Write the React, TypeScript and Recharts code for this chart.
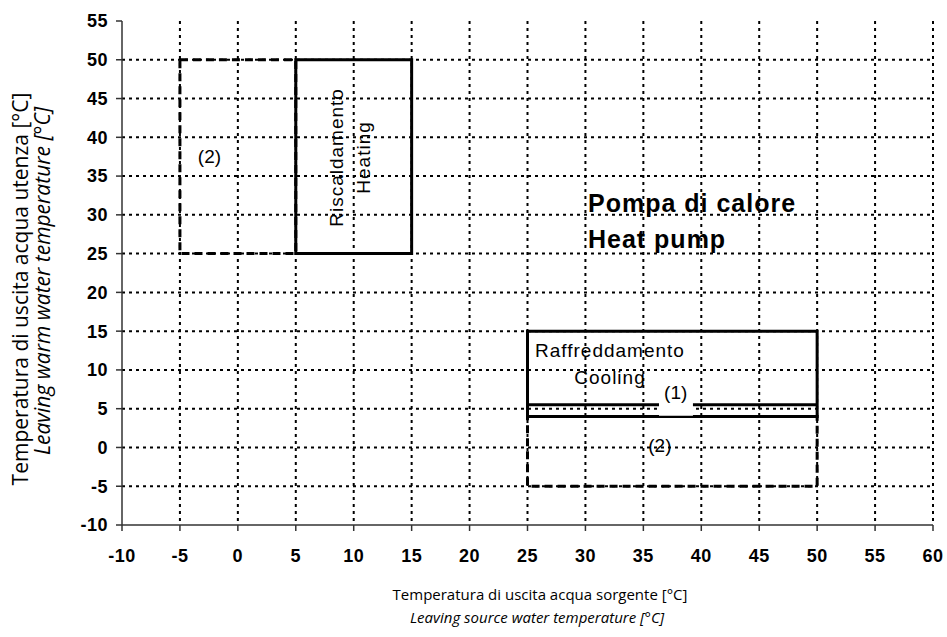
import React from 'react'
import {
  ComposedChart,
  XAxis,
  YAxis,
  CartesianGrid,
  ReferenceArea,
  ReferenceLine,
  ReferenceDot,
} from 'recharts'

// axis ticks
const xTicks = [-10, -5, 0, 5, 10, 15, 20, 25, 30, 35, 40, 45, 50, 55, 60]
const yTicks = [-10, -5, 0, 5, 10, 15, 20, 25, 30, 35, 40, 45, 50, 55]
const gridX = [-5, 0, 5, 10, 15, 20, 25, 30, 35, 40, 45, 50, 55, 60]
const gridY = [-5, 0, 5, 10, 15, 20, 25, 30, 35, 40, 45, 50]

// operating envelopes [x1, x2, y1, y2]
const heatingBox = [5, 15, 25, 50]
const heatingExtBox = [-5, 5, 25, 50] // (2)
const coolingBox = [25, 50, 4, 15]
const coolingExtBox = [25, 50, -5, 4] // (2)
// limit (1) inside the cooling box, broken where its label sits
const coolingLimitY = 5.5
const coolingLimitGap = [36.35, 39.28]

const FONT = '"Liberation Sans", Arial, sans-serif'
const TITLE_FONT = '"Open Sans", sans-serif'

const textAt = (lines: { text: string; dx?: number; dy?: number; anchor?: string; size?: number; bold?: boolean; rotate?: boolean; spacing?: number }[]) =>
  (props: any) => {
    const { cx, cy } = props
    return (
      <g>
        {lines.map((l, i) => {
          const x = cx + (l.dx || 0)
          const y = cy + (l.dy || 0)
          return (
            <text
              key={i}
              x={x}
              y={y}
              textAnchor={l.anchor || 'start'}
              fontFamily={FONT}
              fontSize={l.size || 19}
              fontWeight={l.bold ? 'bold' : 'normal'}
              letterSpacing={l.spacing || 0}
              fill="#000"
              transform={l.rotate ? `rotate(-90 ${x} ${y})` : undefined}
            >
              {l.text}
            </text>
          )
        })}
      </g>
    )
  }

const boxStyle = { fill: 'none', stroke: '#000', strokeWidth: 3, fillOpacity: 1, strokeOpacity: 1 }
const dashStyle = { ...boxStyle, strokeDasharray: '8 5' }
const tickStyle = { fontSize: 18, fontWeight: 'bold', fill: '#000', fontFamily: FONT, letterSpacing: 0.5 }

export default function App() {
  return (
    <div style={{ position: 'absolute', left: 0, top: 0, background: '#fff' }}>
      <ComposedChart width={947} height={637} data={[]} margin={{ top: 21, right: 14, left: 0, bottom: 0 }}>
        <CartesianGrid
          stroke="#000"
          strokeWidth={2}
          strokeDasharray="3 4"
          horizontalValues={gridY}
          verticalValues={gridX}
        />
        <XAxis
          type="number"
          dataKey="x"
          domain={[-10, 60]}
          ticks={xTicks}
          interval={0}
          height={112}
          allowDataOverflow
          axisLine={{ stroke: '#333', strokeWidth: 1.5 }}
          tickLine={{ stroke: '#333', strokeWidth: 1.5 }}
          tickSize={6}
          tickMargin={18}
          tick={tickStyle}
          label={{
            content: () => (
              <g fontFamily={TITLE_FONT} fontSize={15} fill="#000" textAnchor="middle">
                <text x={540} y={600}>Temperatura di uscita acqua sorgente [°C]</text>
                <text x={537} y={623} fontStyle="italic">Leaving source water temperature [°C]</text>
              </g>
            ),
          }}
        />
        <YAxis
          type="number"
          domain={[-10, 55]}
          ticks={yTicks}
          interval={0}
          width={122}
          allowDataOverflow
          axisLine={{ stroke: '#333', strokeWidth: 1.5 }}
          tickLine={{ stroke: '#333', strokeWidth: 1.5 }}
          tickSize={6}
          tickMargin={8}
          tick={tickStyle}
          label={{
            content: () => (
              <g fontFamily={TITLE_FONT} fontSize={21} fill="#000" textAnchor="middle">
                <text x={28} y={289} transform="rotate(-90 28 289)">
                  Temperatura di uscita acqua utenza [°C]
                </text>
                <text x={50} y={281} fontStyle="italic" transform="rotate(-90 50 281)">
                  Leaving warm water temperature [°C]
                </text>
              </g>
            ),
          }}
        />

        <ReferenceArea x1={heatingExtBox[0]} x2={heatingExtBox[1]} y1={heatingExtBox[2]} y2={heatingExtBox[3]} {...dashStyle} />
        <ReferenceArea x1={coolingExtBox[0]} x2={coolingExtBox[1]} y1={coolingExtBox[2]} y2={coolingExtBox[3]} {...dashStyle} />
        <ReferenceArea x1={heatingBox[0]} x2={heatingBox[1]} y1={heatingBox[2]} y2={heatingBox[3]} {...boxStyle} />
        <ReferenceArea x1={coolingBox[0]} x2={coolingBox[1]} y1={coolingBox[2]} y2={coolingBox[3]} {...boxStyle} />
        <ReferenceArea x1={coolingLimitGap[0]} x2={coolingLimitGap[1]} y1={4.1} y2={6} fill="#fff" fillOpacity={1} stroke="none" />

        <ReferenceLine
          segment={[{ x: coolingBox[0], y: coolingLimitY }, { x: coolingLimitGap[0], y: coolingLimitY }]}
          stroke="#000"
          strokeWidth={3}
        />
        <ReferenceLine
          segment={[{ x: coolingLimitGap[1], y: coolingLimitY }, { x: coolingBox[1], y: coolingLimitY }]}
          stroke="#000"
          strokeWidth={3}
        />

        <ReferenceDot x={-2.45} y={36.73} r={0} shape={textAt([{ text: '(2)', anchor: 'middle' }])} />
        <ReferenceDot
          x={9.07}
          y={37.4}
          r={0}
          shape={textAt([
            { text: 'Riscaldamento', anchor: 'middle', rotate: true, spacing: 1 },
            { text: 'Heating', anchor: 'middle', rotate: true, dx: 27, spacing: 1 },
          ])}
        />
        <ReferenceDot
          x={30.22}
          y={30.37}
          r={0}
          shape={textAt([
            { text: 'Pompa di calore', size: 25, bold: true, spacing: 1 },
            { text: 'Heat pump', size: 25, bold: true, spacing: 1, dy: 36 },
          ])}
        />
        <ReferenceDot
          x={25.65}
          y={11.71}
          r={0}
          shape={textAt([
            { text: 'Raffreddamento', spacing: 1 },
            { text: 'Cooling', spacing: 1, anchor: 'middle', dx: 75, dy: 27 },
          ])}
        />
        <ReferenceDot x={37.79} y={6.25} r={0} shape={textAt([{ text: '(1)', anchor: 'middle' }])} />
        <ReferenceDot x={36.43} y={-0.55} r={0} shape={textAt([{ text: '(2)', anchor: 'middle' }])} />
      </ComposedChart>
    </div>
  )
}
